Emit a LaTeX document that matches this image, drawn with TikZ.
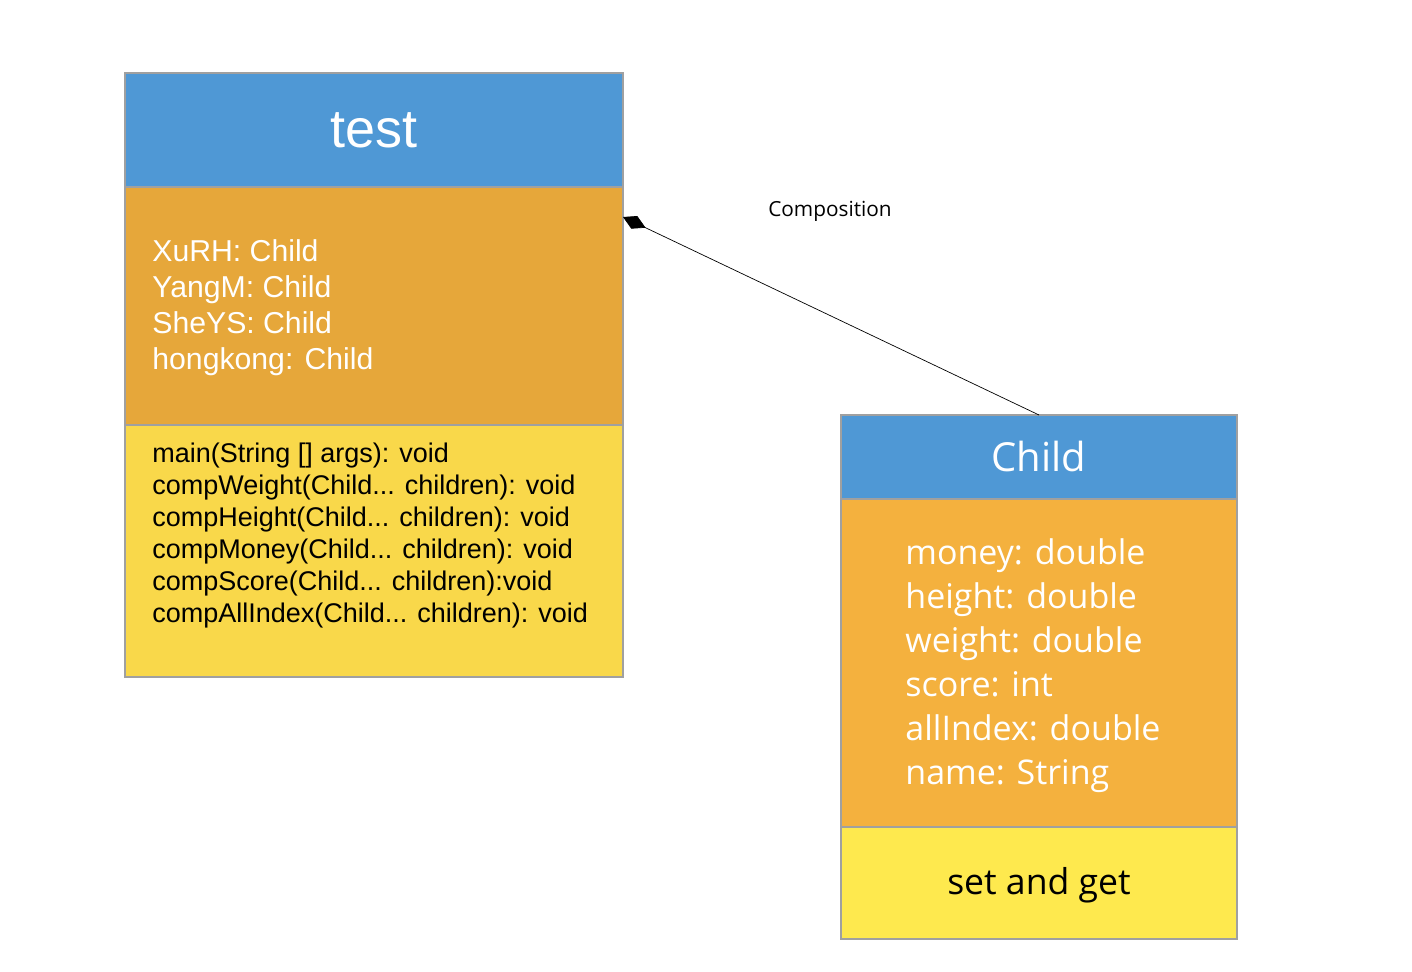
\documentclass[tikz,border=0pt]{standalone}
\usepackage{fontspec}
\setmainfont{Liberation Sans}
\newfontfamily\grandefont{Open Sans}
\usetikzlibrary{arrows.meta, positioning}

\definecolor{headblue}{RGB}{79,152,213}
\definecolor{attrorange}{RGB}{230,167,58}
\definecolor{attrorangeb}{RGB}{244,177,62}
\definecolor{methyellow}{RGB}{249,216,74}
\definecolor{methyellowb}{RGB}{254,233,78}
\definecolor{boxgray}{RGB}{160,160,160}

\begin{document}
\begin{tikzpicture}
[x=0.5pt, y=-0.5pt, compartment/.style={draw=boxgray, line width=0.6pt, inner sep=0pt, outer sep=0pt}, head/.style={compartment, fill=headblue, text=white}, member text/.style={anchor=north west, inner sep=0pt, align=left}, composition/.style={{Diamond[length=12.5pt, width=7pt]}-, line width=0.35pt}]
    \useasboundingbox (0,0) rectangle (1412,972);
    % class test
    \node[head, anchor=north west, minimum width=249pt, minimum height=57pt, font=\fontsize{27}{30}\selectfont] (testhead) at (125,73) {test};
    \node[compartment, fill=attrorange, minimum width=249pt, minimum height=119pt, below=0pt of testhead] (testattr) {};
    \node[compartment, fill=methyellow, minimum width=249pt, minimum height=126pt, below=0pt of testattr] (testmeth) {};
    \node[member text, text=white, font=\fontsize{15.1}{18}\selectfont] (testattrtext) at (152,239) {XuRH: Child\\YangM: Child\\SheYS: Child\\hongkong: Child};
    \node[member text, font=\fontsize{13.5}{16}\selectfont] (testmethtext) at (152,443) {main(String [] args): void\\compWeight(Child... children): void\\compHeight(Child... children): void\\compMoney(Child... children): void\\compScore(Child... children):void\\compAllIndex(Child... children): void};
    % class Child
    \node[head, anchor=north west, minimum width=198pt, minimum height=42pt, font=\grandefont\fontsize{20}{24}\selectfont] (childhead) at (841,415) {Child};
    \node[compartment, fill=attrorangeb, minimum width=198pt, minimum height=164pt, below=0pt of childhead] (childattr) {};
    \node[compartment, fill=methyellowb, minimum width=198pt, minimum height=56pt, below=0pt of childattr, font=\grandefont\fontsize{17.8}{20}\selectfont, text depth=2pt] (childmeth) {set and get};
    \node[member text, text=white, font=\grandefont\fontsize{17}{22}\selectfont] (childattrtext) at (905,538) {money: double\\height: double\\weight: double\\score: int\\allIndex: double\\name: String};
    % composition
    \coordinate (whole) at ([yshift=-15pt]testattr.north east);
    \draw[composition] (whole) -- (childhead.north);
    \node[font=\grandefont\fontsize{10.4}{12}\selectfont] (complabel) at (830,211) {Composition};
\end{tikzpicture}
\end{document}
